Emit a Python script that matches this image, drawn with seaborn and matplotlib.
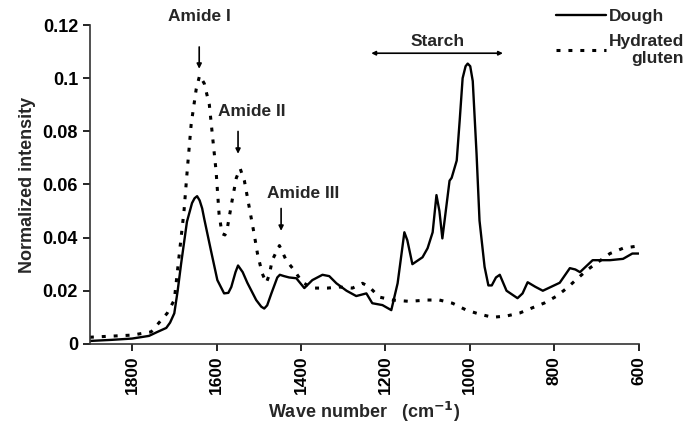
import numpy as np
import pandas as pd
import matplotlib
matplotlib.use("Agg")
import matplotlib.pyplot as plt
import seaborn as sns

# ==========================================
# DADOS
# ==========================================
dough_wn = [1900, 1850, 1800, 1760, 1740, 1719, 1710, 1700, 1692, 1684, 1670, 1658,
            1652, 1646, 1640, 1634, 1629, 1613, 1598, 1582, 1572, 1565, 1555, 1549,
            1538, 1527, 1506, 1494, 1487, 1480, 1470, 1456, 1450, 1440, 1428, 1411,
            1392, 1373, 1349, 1333, 1316, 1292, 1269, 1245, 1231, 1207, 1186, 1171,
            1160, 1155, 1148, 1136, 1112, 1100, 1088, 1079, 1072, 1065, 1048, 1043,
            1031, 1024, 1017, 1010, 1005, 999, 993, 984, 977, 965, 956, 948, 938,
            929, 913, 887, 875, 863, 845, 827, 787, 763, 750, 739, 709, 668, 637,
            615, 600]
dough_int = [0.0011, 0.0015, 0.002, 0.003, 0.0045, 0.006, 0.008, 0.0115, 0.020, 0.030,
             0.046, 0.053, 0.0548, 0.0556, 0.054, 0.051, 0.047, 0.035, 0.024, 0.019,
             0.0192, 0.0214, 0.027, 0.0295, 0.027, 0.023, 0.0165, 0.014, 0.0133, 0.0145,
             0.019, 0.025, 0.026, 0.0255, 0.025, 0.0247, 0.021, 0.024, 0.026, 0.0255,
             0.0228, 0.020, 0.018, 0.019, 0.0153, 0.0146, 0.0127, 0.0228, 0.036, 0.042,
             0.039, 0.030, 0.0326, 0.036, 0.042, 0.056, 0.050, 0.0397, 0.0614, 0.0625,
             0.069, 0.084, 0.100, 0.1045, 0.1055, 0.1045, 0.0989, 0.0715, 0.0464, 0.029,
             0.022, 0.022, 0.025, 0.026, 0.020, 0.0172, 0.019, 0.0232, 0.0215, 0.020,
             0.023, 0.0285, 0.028, 0.027, 0.0315, 0.0315, 0.032, 0.034, 0.034]

gluten_wn = [1900, 1800, 1755, 1717, 1700, 1688, 1677, 1669, 1660, 1648, 1640, 1629,
             1617, 1610, 1601, 1594, 1587, 1580, 1575, 1563, 1553, 1544, 1534, 1522,
             1511, 1503, 1492, 1482, 1475, 1468, 1451, 1435, 1416, 1397, 1373, 1337,
             1309, 1278, 1254, 1238, 1214, 1183, 1143, 1102, 1072, 1041, 1008, 977,
             946, 913, 882, 853, 823, 794, 770, 747, 723, 697, 668, 637, 608, 600]
gluten_int = [0.0025, 0.0033, 0.0045, 0.0115, 0.0165, 0.034, 0.050, 0.066, 0.0827, 0.096,
              0.101, 0.098, 0.090, 0.079, 0.065, 0.049, 0.0415, 0.041, 0.043, 0.054,
              0.0625, 0.066, 0.0614, 0.051, 0.0415, 0.034, 0.0266, 0.023, 0.026, 0.0315,
              0.037, 0.0315, 0.0277, 0.0232, 0.021, 0.021, 0.0214, 0.021, 0.0228, 0.0214,
              0.0176, 0.0165, 0.016, 0.0165, 0.0165, 0.0153, 0.0127, 0.0112, 0.010, 0.0105,
              0.0116, 0.0135, 0.0154, 0.018, 0.021, 0.0243, 0.0277, 0.0307, 0.034, 0.036,
              0.0367, 0.037]

x_ticks = [1800, 1600, 1400, 1200, 1000, 800, 600]
y_ticks = [0, 0.02, 0.04, 0.06, 0.08, 0.1, 0.12]
y_tick_labels = ["0", "0.02", "0.04", "0.06", "0.08", "0.1", "0.12"]

df_dough = pd.DataFrame({"wn": dough_wn, "intensity": dough_int})
df_gluten = pd.DataFrame({"wn": gluten_wn, "intensity": gluten_int})

# ==========================================
# ESTILO
# ==========================================
sns.set_style("ticks")
plt.rcParams["font.family"] = ["Liberation Sans", "DejaVu Sans"]
plt.rcParams["font.weight"] = "bold"
plt.rcParams["axes.labelweight"] = "bold"

fig = plt.figure(figsize=(6.86, 4.32), dpi=100)
ax = fig.add_axes([0.131, 0.204, 0.8, 0.738])

sns.lineplot(data=df_dough, x="wn", y="intensity", ax=ax, color="black",
             lw=1.7, sort=False, label="Dough")
sns.lineplot(data=df_gluten, x="wn", y="intensity", ax=ax, color="black",
             lw=2.2, sort=False, label="Hydrated\ngluten")
ax.lines[1].set_linestyle((0, (1.3, 2.6)))

ax.set_xlim(1900, 600)
ax.set_ylim(0, 0.12)
ax.set_xticks(x_ticks)
ax.set_xticklabels([str(t) for t in x_ticks], rotation=90, fontsize=12.5, fontweight="bold")
ax.set_yticks(y_ticks)
ax.set_yticklabels(y_tick_labels, fontsize=13, fontweight="bold")
ax.tick_params(direction="out", length=5, width=1.2, colors="black")
for s in ["top", "right"]:
    ax.spines[s].set_visible(False)
for s in ["left", "bottom"]:
    ax.spines[s].set_linewidth(1.2)
    ax.spines[s].set_color("#333333")

ax.set_xlabel("Wave number   (cm$^{\\mathbf{-1}}$)", fontsize=13, fontweight="bold", labelpad=4)
ax.set_ylabel("Normalized intensity", fontsize=13, fontweight="bold", labelpad=5)

# anotações
fs = 12.5
arrow = dict(arrowstyle="-|>", color="black", lw=1.2, mutation_scale=7)
ax.annotate("", xy=(1641, 0.1025), xytext=(1641, 0.1128), arrowprops=arrow, annotation_clip=False)
ax.text(1641, 0.1203, "Amide I", ha="center", va="bottom", fontsize=fs, fontweight="bold", clip_on=False)
ax.annotate("", xy=(1549, 0.0705), xytext=(1549, 0.081), arrowprops=arrow)
ax.text(1516, 0.0848, "Amide II", ha="center", va="bottom", fontsize=fs, fontweight="bold")
ax.annotate("", xy=(1447, 0.0415), xytext=(1447, 0.052), arrowprops=arrow)
ax.text(1395, 0.0538, "Amide III", ha="center", va="bottom", fontsize=fs, fontweight="bold")
ax.annotate("", xy=(915, 0.1094), xytext=(1240, 0.1094),
            arrowprops=dict(arrowstyle="<|-|>", color="black", lw=1.2, mutation_scale=6))
ax.text(1077, 0.1108, "Starch", ha="center", va="bottom", fontsize=fs, fontweight="bold")

ax.get_legend().remove()
handles, labels = ax.get_legend_handles_labels()
leg = fig.legend(handles, labels, loc="upper right", bbox_to_anchor=(1.02, 1.015),
                 frameon=False, fontsize=12.5, handlelength=2.9, handletextpad=0.15,
                 labelspacing=0.55)
for t in leg.get_texts():
    t.set_multialignment("right")
    t.set_fontweight("bold")

plt.savefig("out.png", dpi=100)
